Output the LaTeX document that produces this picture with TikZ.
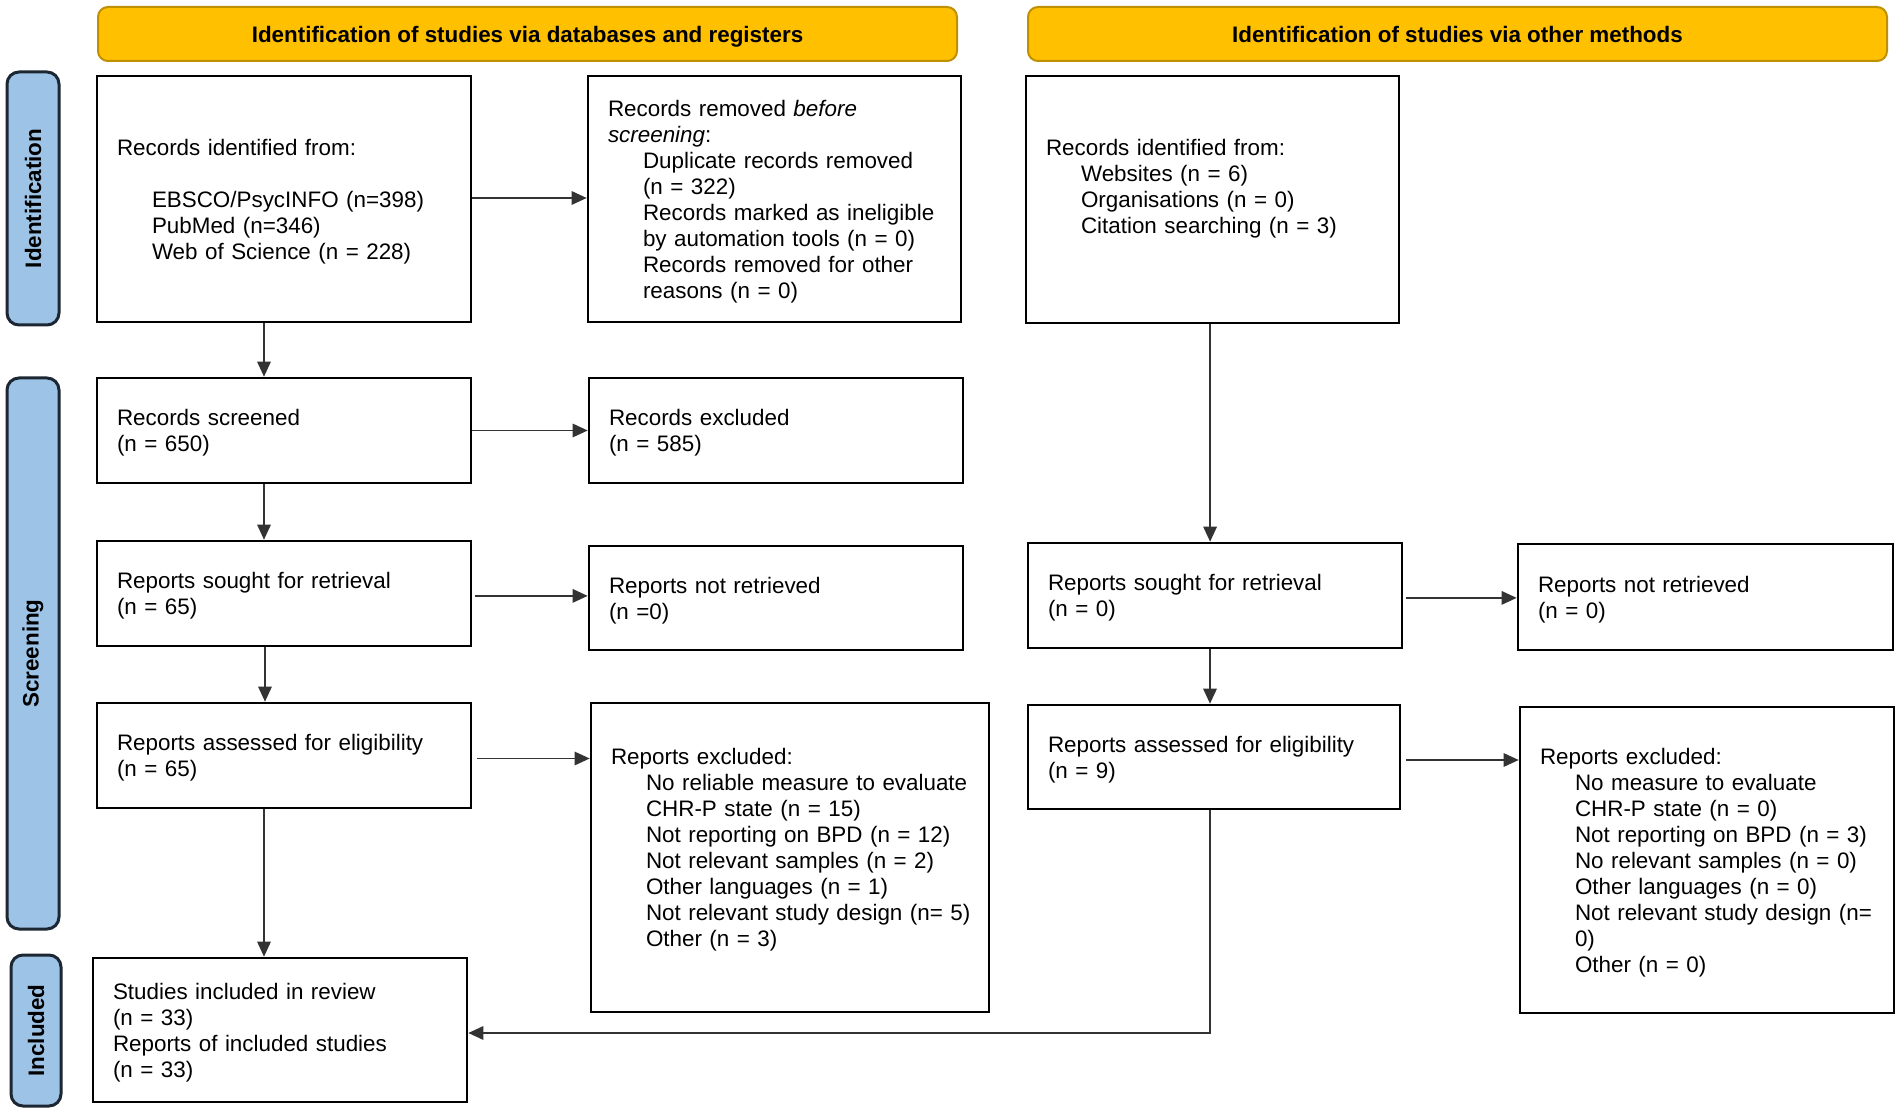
\documentclass[tikz,border=0pt]{standalone}
\usepackage{fontspec}
\setmainfont{Liberation Sans}
\usetikzlibrary{arrows.meta}
\definecolor{gold}{HTML}{FFC000}
\definecolor{goldline}{HTML}{BF9000}
\definecolor{sideblue}{HTML}{9DC3E6}
\definecolor{sideline}{HTML}{1C2733}
\definecolor{conn}{HTML}{333333}
\newcommand{\ind}{\hspace*{17.5pt}}
\newcommand{\tallstrut}{\rule{0pt}{10.7pt}}
\begin{document}
\begin{tikzpicture}[x=0.5pt,y=-0.5pt,
  every node/.style={font=\fontsize{11.2}{13}\selectfont},
  flowbox/.style={draw=black, line width=1.3pt, fill=white, align=left, inner xsep=10pt, inner ysep=2pt},
  headbox/.style={draw=goldline, line width=1pt, fill=gold, rounded corners=5pt, font=\fontsize{11.2}{13}\selectfont\bfseries, align=center, text height=8.1pt, text depth=0pt},
  sidebox/.style={draw=sideline, line width=1.5pt, fill=sideblue, rounded corners=6pt, rotate=90, font=\fontsize{11.2}{13}\selectfont\bfseries, align=center},
  arrow/.style={draw=conn, line width=0.85pt, -{Triangle[length=7.5pt,width=6.7pt]}},
  link/.style={draw=conn, line width=0.85pt}
]
\useasboundingbox (0,0) rectangle (1902,1117);
\fill[white] (0,0) rectangle (1902,1117);

% headers
\node[headbox, minimum width=429.5pt, minimum height=27pt] (h1) at (527.5,34) {Identification of studies via databases and registers};
\node[headbox, minimum width=429.5pt, minimum height=27pt] (h2) at (1457.5,34) {Identification of studies via other methods};

% side labels
\node[sidebox, minimum width=126.5pt, minimum height=26pt] (s1) at (33,198.5) {Identification};
\node[sidebox, minimum width=275.5pt, minimum height=26pt] (s2) at (33,653.5) {Screening};
\node[sidebox, minimum width=75.5pt, minimum height=25pt] (s3) at (36,1030.5) {Included};

% left column
\node[flowbox, minimum width=187pt, minimum height=123pt, text width=167pt] (A) at (284,199)
 {\tallstrut Records identified from:\\[13pt]
  \ind EBSCO/PsycINFO (n=398)\\
  \ind PubMed (n=346)\\
  \ind Web of Science (n = 228)};
\node[flowbox, minimum width=186.5pt, minimum height=123pt, text width=166.5pt] (B) at (774.5,199)
 {\tallstrut Records removed \textit{before}\\
  \textit{screening}:\\
  \ind Duplicate records removed\\
  \ind (n = 322)\\
  \mbox{\ind Records marked as ineligible}\\
  \ind by automation tools (n = 0)\\
  \ind Records removed for other\\
  \ind reasons (n = 0)};
\node[flowbox, minimum width=187pt, minimum height=52.5pt, text width=167pt] (D) at (284,430.5)
 {\tallstrut Records screened\\(n = 650)};
\node[flowbox, minimum width=187pt, minimum height=52.5pt, text width=167pt] (E) at (776,430.5)
 {\tallstrut Records excluded\\(n = 585)};
\node[flowbox, minimum width=187pt, minimum height=52.5pt, text width=167pt] (F) at (284,593.5)
 {\tallstrut Reports sought for retrieval\\(n = 65)};
\node[flowbox, minimum width=187pt, minimum height=52pt, text width=167pt] (G) at (776,598)
 {\tallstrut Reports not retrieved\\(n =0)};
\node[flowbox, minimum width=187pt, minimum height=52.5pt, text width=167pt] (H) at (284,755.5)
 {\tallstrut Reports assessed for eligibility\\(n = 65)};
\node[flowbox, minimum width=199pt, minimum height=154.5pt, text width=179pt] (L) at (790,857.5)
 {\tallstrut Reports excluded:\\
  \mbox{\ind No reliable measure to evaluate}\\
  \ind CHR-P state (n = 15)\\
  \ind Not reporting on BPD (n = 12)\\
  \ind Not relevant samples (n = 2)\\
  \ind Other languages (n = 1)\\
  \mbox{\ind Not relevant study design (n= 5)}\\
  \ind Other (n = 3)\\
  \mbox{}};
\node[flowbox, minimum width=187pt, minimum height=72pt, text width=167pt] (M) at (280,1030)
 {\tallstrut Studies included in review\\
  (n = 33)\\
  Reports of included studies\\
  (n = 33)};

% right column
\node[flowbox, minimum width=186.5pt, minimum height=123.5pt, text width=166.5pt] (C) at (1212.5,199.5)
 {Records identified from:\\
  \ind Websites (n = 6)\\
  \ind Organisations (n = 0)\\
  \ind Citation searching (n = 3)\\
  \mbox{}};
\node[flowbox, minimum width=187pt, minimum height=52.5pt, text width=167pt] (I) at (1215,595.5)
 {\tallstrut Reports sought for retrieval\\(n = 0)};
\node[flowbox, minimum width=187.5pt, minimum height=53pt, text width=167.5pt] (J) at (1705.5,597)
 {\tallstrut Reports not retrieved\\(n = 0)};
\node[flowbox, minimum width=186pt, minimum height=52pt, text width=166pt] (K) at (1214,757)
 {\tallstrut Reports assessed for eligibility\\(n = 9)};
\node[flowbox, minimum width=187pt, minimum height=153pt, text width=167pt] (N) at (1707,860)
 {\tallstrut Reports excluded:\\
  \ind No measure to evaluate\\
  \ind CHR-P state (n = 0)\\
  \ind Not reporting on BPD (n = 3)\\
  \ind No relevant samples (n = 0)\\
  \ind Other languages (n = 0)\\
  \mbox{\ind Not relevant study design (n=}\\
  \ind 0)\\
  \ind Other (n = 0)};

% connectors
\draw[arrow] ([xshift=-10pt]A.south) -- ([xshift=-10pt]A.south |- D.north);
\draw[arrow] (A.east |- 0,198) -- (B.west |- 0,198);
\draw[arrow] (D.east) -- (D.east -| E.west);
\draw[arrow] ([xshift=-10pt]D.south) -- ([xshift=-10pt]D.south |- F.north);
\draw[arrow] ([xshift=1.5pt,yshift=-1.2pt]F.east) -- ([yshift=-1.2pt]F.east -| G.west);
\draw[arrow] ([xshift=-9.5pt]F.south) -- ([xshift=-9.5pt]F.south |- H.north);
\draw[arrow] ([xshift=2.5pt,yshift=-1.5pt]H.east) -- ([yshift=-1.5pt]H.east -| L.west);
\draw[arrow] ([xshift=-10pt]H.south) -- ([xshift=-10pt]H.south |- M.north);
\draw[arrow] ([xshift=-1.2pt]C.south) -- ([xshift=-1.2pt]C.south |- I.north);
\draw[arrow] ([xshift=1.5pt,yshift=-1.2pt]I.east) -- ([yshift=-1.2pt]I.east -| J.west);
\draw[arrow] ([xshift=-2.5pt]I.south) -- ([xshift=-2.5pt]I.south |- K.north);
\draw[arrow] ([xshift=2.5pt,yshift=-1.5pt]K.east) -- ([yshift=-1.5pt]K.east -| N.west);
\draw[arrow] ([xshift=-2pt]K.south) |- ([yshift=-1.5pt]M.east);
\end{tikzpicture}
\end{document}
